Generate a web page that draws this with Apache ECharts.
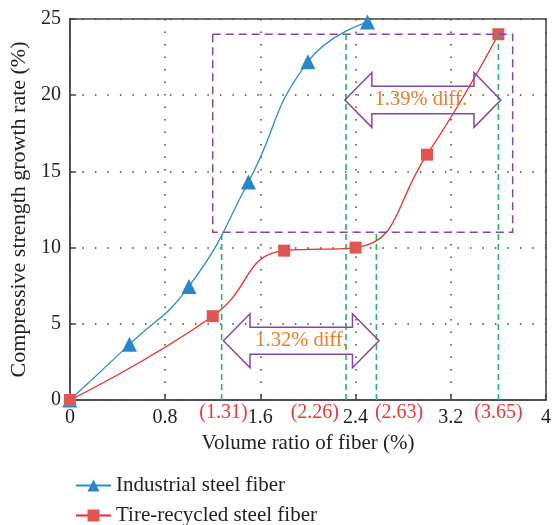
<!DOCTYPE html>
<html>
<head>
<meta charset="utf-8">
<script src="https://cdn.jsdelivr.net/npm/echarts@6/dist/echarts.min.js"></script>
<style>
html,body{margin:0;padding:0;background:#fff;}
#chart{width:554px;height:525px;}
</style>
</head>
<body>
<div id="chart"></div>
<script>
// ---- data ----
var seriesNames = ['Industrial steel fiber', 'Tire-recycled steel fiber'];
var industrialX = [0, 0.5, 1.0, 1.5, 2.0, 2.5];
var industrialY = [0, 3.65, 7.45, 14.3, 22.2, 24.8];
var tireX = [0, 1.2, 1.8, 2.4, 3.0, 3.6];
var tireY = [0, 5.5, 9.8, 10.0, 16.1, 24.0];
var xTicks = [0, 0.8, 1.6, 2.4, 3.2, 4];
var yTicks = [0, 5, 10, 15, 20, 25];

// annotations (data units)
var boxX = [1.2, 3.72];
var boxY = [11, 24];
var guideX = [1.275, 2.32, 2.575, 3.6];
var guideTop = [11, 24.1, 11, 24];
var guideLabels = ['(1.31)', '(2.26)', '(2.63)', '(3.65)'];
var guideLabelX = [1.29, 2.058, 2.766, 3.6];
var arrowTexts = ['1.39% diff.', '1.32% diff.'];
var arrowTipL = [2.31, 1.29];
var arrowTipR = [3.62, 2.597];
var arrowBaseL = [2.537, 1.513];
var arrowBaseR = [3.395, 2.374];
var arrowY = [19.69, 3.89];
var arrowShaftHalf = [0.9, 0.88];
var arrowHeadHalf = [1.8, 1.77];
var arrowTextX = [2.948, 1.946];

var FONT = '"Liberation Serif", "Times New Roman", serif';
var PURPLE = '#8446a8';
var GREEN = '#2bb56b';
var ORANGE = '#f07d2e';
var REDTXT = '#e8383c';

function zip(a, b) { return a.map(function (v, i) { return [v, b[i]]; }); }

var chart = echarts.init(document.getElementById('chart'));

var legendBase = {
  orient: 'horizontal', left: 70, itemWidth: 35, itemHeight: 15,
  textStyle: { fontFamily: FONT, fontSize: 21, color: '#222' }
};

var option = {
  animation: false,
  backgroundColor: '#fff',
  grid: { left: 69, right: 2, top: 19, bottom: 125, show: true, borderColor: '#444', borderWidth: 1.5, containLabel: false },
  legend: [
    Object.assign({}, legendBase, { top: 470, data: [seriesNames[0]] }),
    Object.assign({}, legendBase, { top: 500, data: [seriesNames[1]] })
  ],
  xAxis: {
    type: 'value', min: 0, max: 4, interval: 0.8,
    name: 'Volume ratio of fiber (%)', nameLocation: 'middle', nameGap: 33,
    nameTextStyle: { fontFamily: FONT, fontSize: 21, color: '#222' },
    axisLine: { show: true, lineStyle: { color: '#444', width: 1.5 } },
    axisTick: { show: true, inside: true, length: 6, lineStyle: { color: '#444', width: 1.5 } },
    axisLabel: { fontFamily: FONT, fontSize: 20, color: '#222', margin: 8,
      formatter: function (v) { return String(parseFloat(v.toFixed(1))); } },
    splitLine: { show: true, lineStyle: { color: '#444', type: [1.5, 11], width: 1.5 } }
  },
  yAxis: {
    type: 'value', min: 0, max: 25, interval: 5,
    name: 'Compressive strength growth rate (%)', nameLocation: 'middle', nameGap: 33,
    nameTextStyle: { fontFamily: FONT, fontSize: 22, color: '#222' },
    axisLine: { show: true, lineStyle: { color: '#444', width: 1.5 } },
    axisTick: { show: true, inside: true, length: 6, lineStyle: { color: '#444', width: 1.5 } },
    axisLabel: { fontFamily: FONT, fontSize: 20, color: '#222', margin: 9 },
    splitLine: { show: true, lineStyle: { color: '#444', type: [1.5, 11], width: 1.5 } }
  },
  series: [
    {
      name: seriesNames[0], type: 'line', smooth: 0.5,
      data: zip(industrialX, industrialY),
      symbol: 'triangle', symbolSize: 15,
      lineStyle: { color: '#2c8bd0', width: 1.3 },
      itemStyle: { color: '#2a86c8' }, z: 3
    },
    {
      name: seriesNames[1], type: 'line', smooth: 0.5,
      data: zip(tireX, tireY),
      symbol: 'rect', symbolSize: 12,
      lineStyle: { color: '#ec2d2a', width: 1.3 },
      itemStyle: { color: '#e05655' }, z: 4
    },
    {
      type: 'custom', name: 'annotations', silent: true, clip: false, z: 5,
      data: [[0, 0]],
      renderItem: function (params, api) {
        var children = [];
        var p1 = api.coord([boxX[0], boxY[1]]);
        var p2 = api.coord([boxX[1], boxY[0]]);
        children.push({ type: 'rect', shape: { x: p1[0], y: p1[1], width: p2[0] - p1[0], height: p2[1] - p1[1] },
          style: { fill: 'none', stroke: PURPLE, lineWidth: 1.5, lineDash: [8, 5] } });
        for (var i = 0; i < guideX.length; i++) {
          var a = api.coord([guideX[i], 0]);
          var b = api.coord([guideX[i], guideTop[i]]);
          children.push({ type: 'line', shape: { x1: a[0], y1: a[1], x2: b[0], y2: b[1] },
            style: { stroke: GREEN, lineWidth: 1.6, lineDash: [6, 4] } });
          var l = api.coord([guideLabelX[i], 0]);
          children.push({ type: 'text', x: l[0], y: l[1] + 13,
            style: { text: guideLabels[i], fill: REDTXT, font: '20px ' + FONT, align: 'center', verticalAlign: 'middle' } });
        }
        for (var k = 0; k < arrowTexts.length; k++) {
          var yc = arrowY[k], s = arrowShaftHalf[k], h = arrowHeadHalf[k];
          var pts = [
            [arrowTipL[k], yc], [arrowBaseL[k], yc + h], [arrowBaseL[k], yc + s],
            [arrowBaseR[k], yc + s], [arrowBaseR[k], yc + h], [arrowTipR[k], yc],
            [arrowBaseR[k], yc - h], [arrowBaseR[k], yc - s], [arrowBaseL[k], yc - s],
            [arrowBaseL[k], yc - h]
          ].map(function (p) { return api.coord(p); });
          children.push({ type: 'polygon', shape: { points: pts },
            style: { fill: 'none', stroke: PURPLE, lineWidth: 1.5 } });
          var t = api.coord([arrowTextX[k], yc]);
          children.push({ type: 'text', x: t[0], y: t[1],
            style: { text: arrowTexts[k], fill: ORANGE, font: '20.5px ' + FONT, align: 'center', verticalAlign: 'middle' } });
        }
        return { type: 'group', children: children };
      }
    }
  ]
};
chart.setOption(option);
</script>
</body>
</html>
